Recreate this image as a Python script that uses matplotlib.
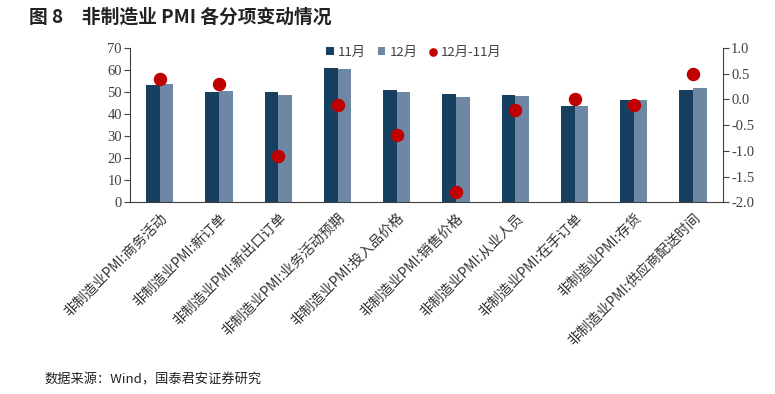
import matplotlib
matplotlib.use("Agg")
import matplotlib.pyplot as plt
import numpy as np

categories = ["非制造业PMI:商务活动", "非制造业PMI:新订单", "非制造业PMI:新出口订单",
              "非制造业PMI:业务活动预期", "非制造业PMI:投入品价格", "非制造业PMI:销售价格",
              "非制造业PMI:从业人员", "非制造业PMI:在手订单", "非制造业PMI:存货",
              "非制造业PMI:供应商配送时间"]
nov = [53.4, 50.1, 49.9, 61.0, 50.8, 49.3, 48.7, 43.6, 46.6, 51.1]
dec = [53.8, 50.4, 48.8, 60.6, 50.1, 47.6, 48.4, 43.6, 46.6, 51.7]
diff = [0.4, 0.3, -1.1, -0.1, -0.7, -1.8, -0.2, 0.0, -0.1, 0.5]

plt.rcParams['font.family'] = ['Noto Sans CJK SC', 'DejaVu Sans']
c_nov = "#173f5f"
c_dec = "#6d87a4"
c_dot = "#c00000"

fig = plt.figure(figsize=(7.75, 3.94), dpi=100)
ax = fig.add_axes([0.168, 0.4865, 0.7645, 0.3915])
x = np.arange(len(categories))
w = 0.23
ax.bar(x - w/2, nov, width=w, color=c_nov, label="11月")
ax.bar(x + w/2, dec, width=w, color=c_dec, label="12月")
ax.set_xlim(-0.5, len(categories) - 0.5)
ax.set_ylim(0, 70)
ax.set_yticks(range(0, 71, 10))
ax.spines['top'].set_visible(False)
ax.spines['right'].set_visible(False)
for s in ['left', 'bottom']:
    ax.spines[s].set_color('#404040')
ax.tick_params(axis='y', direction='out', length=4, color='#404040', labelsize=10.5, labelcolor='#404040', pad=2)
ax.tick_params(axis='x', length=0, pad=6)
for lab in ax.get_yticklabels():
    lab.set_family('Liberation Serif')
ax.set_xticks(x)
ax.set_xticklabels(categories, rotation=45, ha='right', rotation_mode='anchor', fontsize=10, color='#333333')

ax2 = ax.twinx()
ax2.scatter(x, diff, s=75, color=c_dot, zorder=5, label="12月-11月")
ax2.set_ylim(-2.0, 1.0)
ax2.set_yticks(np.arange(-2.0, 1.01, 0.5))
ax2.set_yticklabels([f"{v:.1f}" for v in np.arange(-2.0, 1.01, 0.5)])
ax2.spines['top'].set_visible(False)
ax2.spines['left'].set_visible(False)
ax2.spines['bottom'].set_visible(False)
ax2.spines['right'].set_color('#404040')
ax2.tick_params(axis='y', direction='out', length=4, color='#404040', labelsize=10.5, labelcolor='#404040', pad=2)
for lab in ax2.get_yticklabels():
    lab.set_family('Liberation Serif')

h1, l1 = ax.get_legend_handles_labels()
h2, l2 = ax2.get_legend_handles_labels()
leg = fig.legend(h1 + h2, l1 + l2, loc='center left', bbox_to_anchor=(0.405, 0.868), ncol=3,
                 frameon=False, fontsize=9.5, handlelength=0.6, handleheight=0.6,
                 handletextpad=0.3, columnspacing=0.9, markerscale=0.6)
for t in leg.get_texts():
    t.set_color('#404040')

fig.text(0.038, 0.957, "图 8　非制造业 PMI 各分项变动情况", fontsize=13.5, fontweight='bold',
         va='center', ha='left', color='#222222')
fig.text(0.058, 0.035, "数据来源：Wind，国泰君安证券研究", fontsize=9.5, va='center', ha='left', color='#222222')

fig.savefig("out.png", dpi=100)
